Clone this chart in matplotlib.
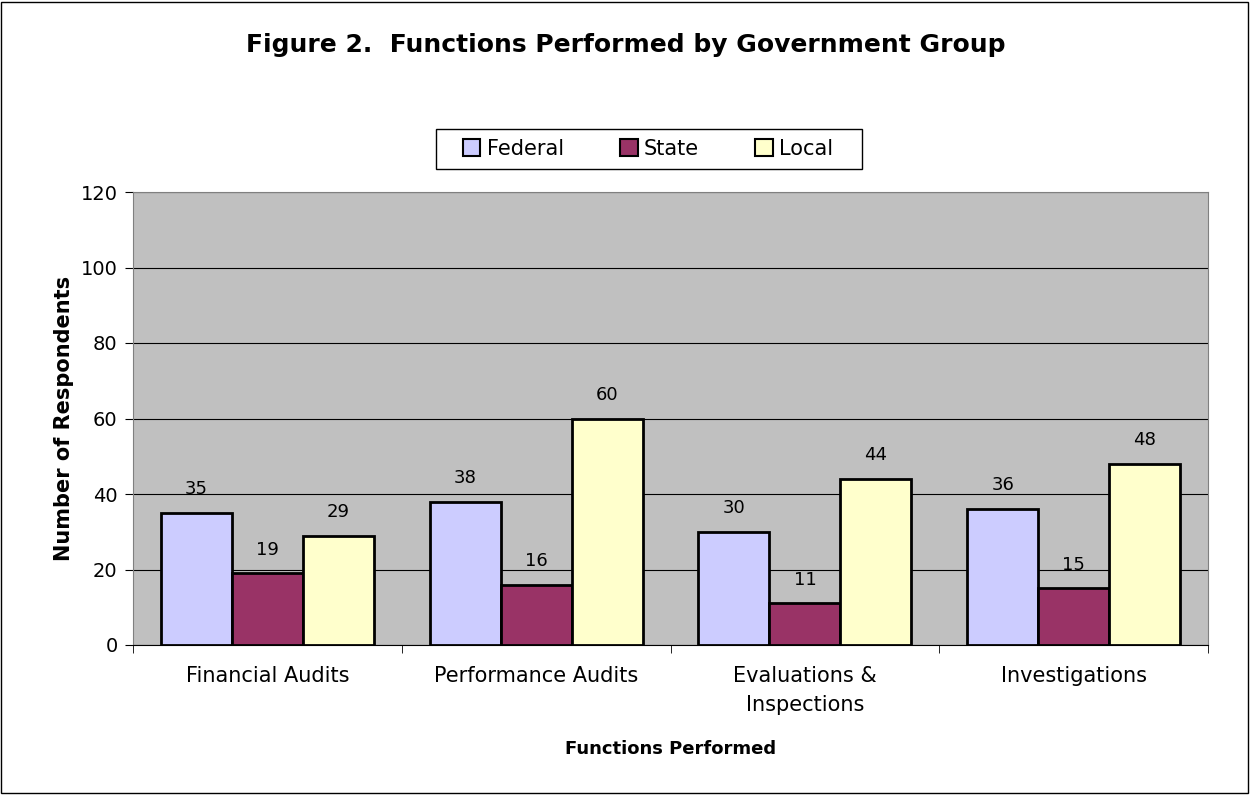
import matplotlib.pyplot as plt
import numpy as np
from matplotlib.patches import Rectangle

plt.rcParams['font.family'] = ['DejaVu Sans']

categories = ['Financial Audits', 'Performance Audits', 'Evaluations &\nInspections', 'Investigations']
federal = [35, 38, 30, 36]
state = [19, 16, 11, 15]
local = [29, 60, 44, 48]
series = [('Federal', federal, '#CCCCFF'), ('State', state, '#993366'), ('Local', local, '#FFFFCC')]

W, H = 1251, 795
fig = plt.figure(figsize=(W/100, H/100), dpi=100)
# outer chart border
fig.patches.append(Rectangle((0.001, 0.002), 0.997, 0.996, transform=fig.transFigure,
                             fill=False, edgecolor='black', linewidth=1, zorder=-2))
ax = fig.add_axes([133/W, 1-645/H, (1208-133)/W, (645-192)/H])
ax.set_facecolor('#C0C0C0')

x = np.arange(len(categories))
w = 0.264
for i, (name, vals, col) in enumerate(series):
    pos = x + (i - 1) * w
    ax.bar(pos, vals, w, color=col, edgecolor='black', linewidth=2, label=name, zorder=3)
    for p, v in zip(pos, vals):
        ax.annotate(str(v), (p, v), xytext=(0, 17), textcoords='offset points',
                    ha='center', va='center', fontsize=13)

ax.set_xlim(-0.5, 3.5)
ax.set_ylim(0, 120)
ax.set_yticks(range(0, 121, 20))
ax.yaxis.grid(True, color='black', linewidth=0.8, zorder=0)
ax.set_axisbelow(True)
ax.set_xticks(x)
ax.set_xticklabels(categories, fontsize=15, linespacing=1.6)
ax.set_xticks(np.arange(-0.5, 4, 1), minor=True)
ax.tick_params(axis='x', which='major', length=0, pad=15)
ax.tick_params(axis='x', which='minor', length=6, direction='out')
ax.tick_params(axis='y', labelsize=14, length=6, direction='out', pad=5)
for s in ['top', 'right', 'left']:
    ax.spines[s].set_color('#808080')
ax.spines['bottom'].set_color('black')

ax.set_ylabel('Number of Respondents', fontsize=15, fontweight='bold', labelpad=5)
ax.set_xlabel('Functions Performed', fontsize=13, fontweight='bold', labelpad=18)
fig.suptitle('Figure 2.  Functions Performed by Government Group', fontsize=18,
             fontweight='bold', y=1-45/H, va='center')

# legend box
fig.patches.append(Rectangle((436/W, 1-169/H), 426/W, 40/H, transform=fig.transFigure,
                             facecolor='white', edgecolor='black', linewidth=1, zorder=-1))
leg = ax.legend(loc='center', bbox_to_anchor=(648/W, 1-149/H), bbox_transform=fig.transFigure,
                ncol=3, fontsize=15, frameon=False,
                handlelength=0.85, handleheight=0.85, handletextpad=0.3, columnspacing=2.7)
for h in leg.legend_handles:
    h.set_linewidth(1.5)

fig.savefig('out.png', dpi=100)
